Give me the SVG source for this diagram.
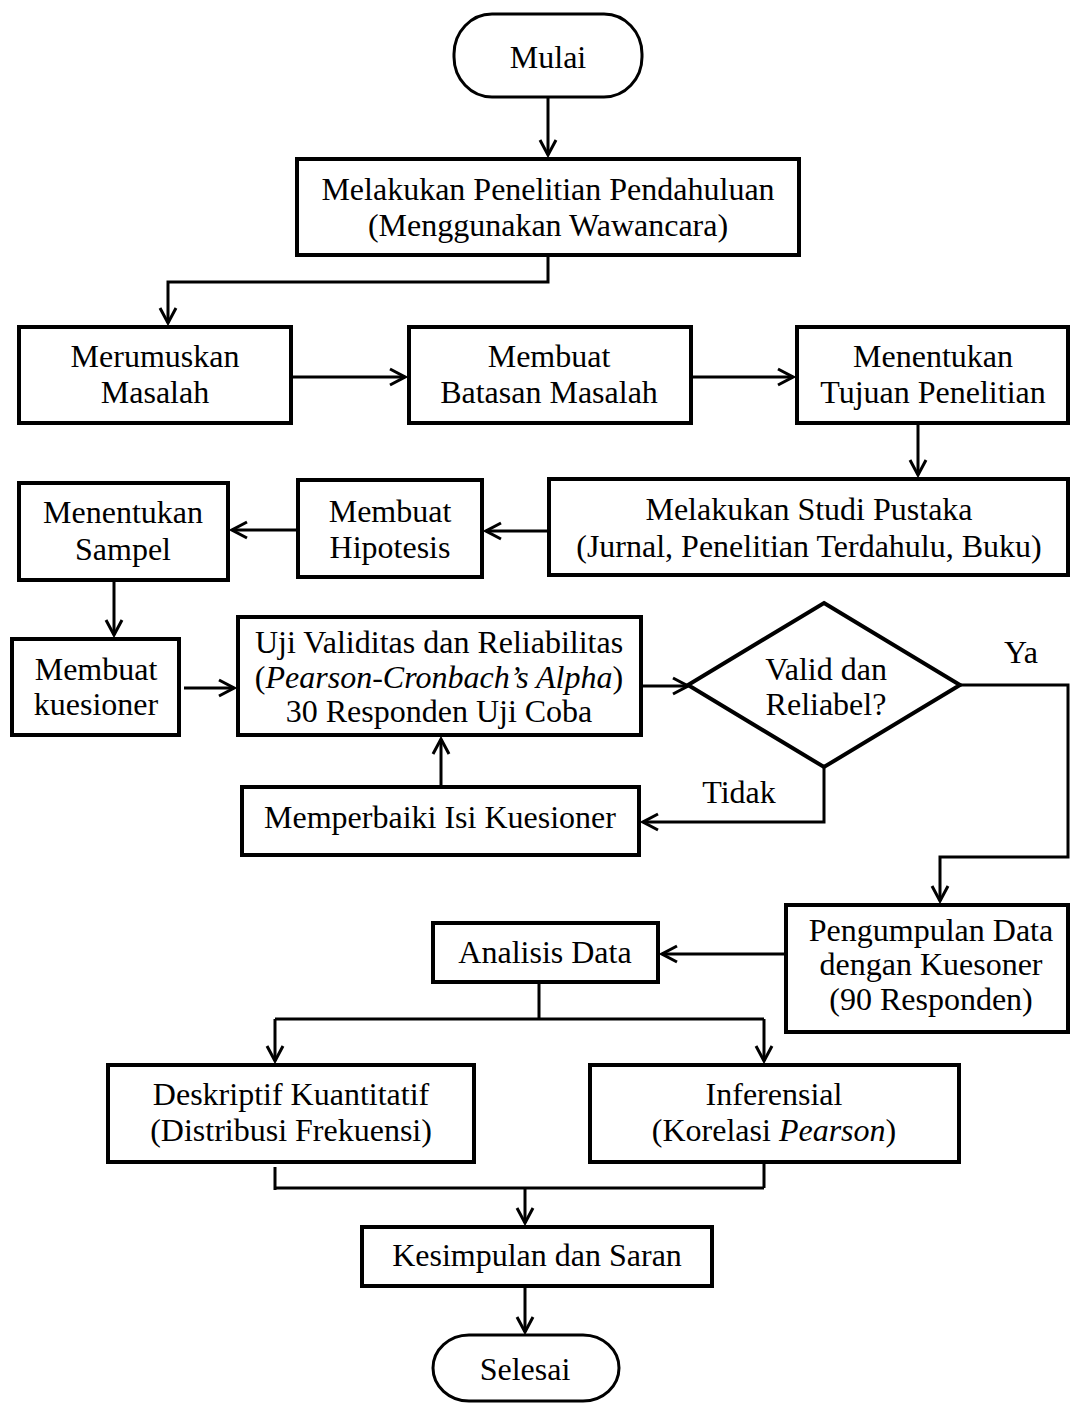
<svg xmlns="http://www.w3.org/2000/svg" width="1072" height="1404" viewBox="0 0 1072 1404">
<defs>
<style>
.b{fill:#fff;stroke:#000;stroke-width:4}
.term{fill:#fff;stroke:#000;stroke-width:3}
.c{fill:none;stroke:#000;stroke-width:3}
.t{font-family:"Liberation Serif","Times New Roman",serif;font-size:32px;fill:#000;text-anchor:middle}
.i{font-style:italic}
</style>
<marker id="ah" markerUnits="userSpaceOnUse" viewBox="0 0 18 20" markerWidth="18" markerHeight="20" refX="16" refY="10" orient="auto">
<path d="M1,2 L16,10 L1,18" fill="none" stroke="#000" stroke-width="3"/>
</marker>
</defs>
<rect width="1072" height="1404" fill="#fff"/>
<g id="connectors">
<path class="c" d="M548,97 V155" marker-end="url(#ah)"/>
<path class="c" d="M548,257 V282 H168 V323" marker-end="url(#ah)"/>
<path class="c" d="M293,377 H405" marker-end="url(#ah)"/>
<path class="c" d="M693,377 H793" marker-end="url(#ah)"/>
<path class="c" d="M918,425 V475" marker-end="url(#ah)"/>
<path class="c" d="M547,531 H486" marker-end="url(#ah)"/>
<path class="c" d="M296,530 H232" marker-end="url(#ah)"/>
<path class="c" d="M114,582 V635" marker-end="url(#ah)"/>
<path class="c" d="M184,688 H234" marker-end="url(#ah)"/>
<path class="c" d="M643,686 H688" marker-end="url(#ah)"/>
<path class="c" d="M960,685 H1068 V857 H940 V901" marker-end="url(#ah)"/>
<path class="c" d="M824,767 V822 H643" marker-end="url(#ah)"/>
<path class="c" d="M441,785 V739" marker-end="url(#ah)"/>
<path class="c" d="M784,954 H662" marker-end="url(#ah)"/>
<path class="c" d="M539,984 V1019 M275,1019 H764"/>
<path class="c" d="M275,1019 V1061" marker-end="url(#ah)"/>
<path class="c" d="M764,1019 V1061" marker-end="url(#ah)"/>
<path class="c" d="M275,1167 V1190 M764,1164 V1188 M275,1188 H764"/>
<path class="c" d="M525,1188 V1223" marker-end="url(#ah)"/>
<path class="c" d="M525,1288 V1332" marker-end="url(#ah)"/>
<text class="t" x="1021" y="663">Ya</text>
<text class="t" x="739" y="803">Tidak</text>
</g>
<g id="mulai">
<rect class="term" x="454" y="14" width="188" height="83" rx="38" ry="40"/>
<text class="t" x="548" y="68">Mulai</text>
</g>
<g id="pendahuluan">
<rect class="b" x="297" y="159" width="502" height="96"/>
<text class="t" x="548" y="200">Melakukan Penelitian Pendahuluan</text>
<text class="t" x="548" y="236">(Menggunakan Wawancara)</text>
</g>
<g id="merumuskan">
<rect class="b" x="19" y="327" width="272" height="96"/>
<text class="t" x="155" y="367">Merumuskan</text>
<text class="t" x="155" y="403">Masalah</text>
</g>
<g id="batasan">
<rect class="b" x="409" y="327" width="282" height="96"/>
<text class="t" x="549" y="367">Membuat</text>
<text class="t" x="549" y="403">Batasan Masalah</text>
</g>
<g id="tujuan">
<rect class="b" x="797" y="327" width="271" height="96"/>
<text class="t" x="933" y="367">Menentukan</text>
<text class="t" x="933" y="403">Tujuan Penelitian</text>
</g>
<g id="studi">
<rect class="b" x="549" y="479" width="519" height="96"/>
<text class="t" x="809" y="520">Melakukan Studi Pustaka</text>
<text class="t" x="809" y="557">(Jurnal, Penelitian Terdahulu, Buku)</text>
</g>
<g id="hipotesis">
<rect class="b" x="298" y="480" width="184" height="97"/>
<text class="t" x="390" y="522">Membuat</text>
<text class="t" x="390" y="558">Hipotesis</text>
</g>
<g id="sampel">
<rect class="b" x="19" y="483" width="209" height="97"/>
<text class="t" x="123" y="523">Menentukan</text>
<text class="t" x="123" y="560">Sampel</text>
</g>
<g id="kuesioner">
<rect class="b" x="12" y="639" width="167" height="96"/>
<text class="t" x="96" y="680">Membuat</text>
<text class="t" x="96" y="715">kuesioner</text>
</g>
<g id="uji">
<rect class="b" x="238" y="617" width="403" height="118"/>
<text class="t" x="439" y="653">Uji Validitas dan Reliabilitas</text>
<text class="t" x="439" y="688">(<tspan class="i">Pearson-Cronbach’s Alpha</tspan>)</text>
<text class="t" x="439" y="722">30 Responden Uji Coba</text>
</g>
<g id="valid">
<polygon class="b" points="824,603 960,685 824,767 688,685"/>
<text class="t" x="826" y="680">Valid dan</text>
<text class="t" x="826" y="715">Reliabel?</text>
</g>
<g id="memperbaiki">
<rect class="b" x="242" y="787" width="397" height="68"/>
<text class="t" x="440" y="828">Memperbaiki Isi Kuesioner</text>
</g>
<g id="pengumpulan">
<rect class="b" x="786" y="905" width="282" height="127"/>
<text class="t" x="931" y="941">Pengumpulan Data</text>
<text class="t" x="931" y="975">dengan Kuesoner</text>
<text class="t" x="931" y="1010">(90 Responden)</text>
</g>
<g id="analisis">
<rect class="b" x="433" y="923" width="225" height="59"/>
<text class="t" x="545" y="963">Analisis Data</text>
</g>
<g id="deskriptif">
<rect class="b" x="108" y="1065" width="366" height="97"/>
<text class="t" x="291" y="1105">Deskriptif Kuantitatif</text>
<text class="t" x="291" y="1141">(Distribusi Frekuensi)</text>
</g>
<g id="inferensial">
<rect class="b" x="590" y="1065" width="369" height="97"/>
<text class="t" x="774" y="1105">Inferensial</text>
<text class="t" x="774" y="1141">(Korelasi <tspan class="i">Pearson</tspan>)</text>
</g>
<g id="kesimpulan">
<rect class="b" x="362" y="1227" width="350" height="59"/>
<text class="t" x="537" y="1266">Kesimpulan dan Saran</text>
</g>
<g id="selesai">
<rect class="term" x="433" y="1335" width="186" height="66" rx="36" ry="33"/>
<text class="t" x="525" y="1380">Selesai</text>
</g>
</svg>
